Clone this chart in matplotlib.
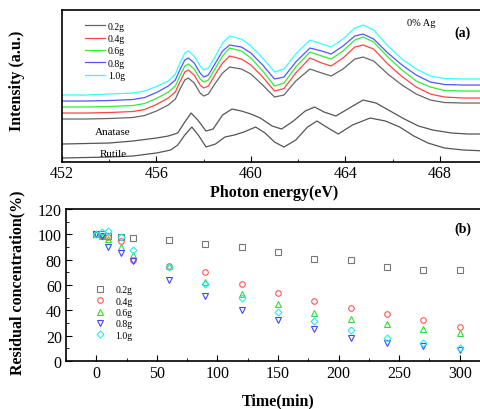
import numpy as np
import matplotlib
matplotlib.use("Agg")
import matplotlib.pyplot as plt
from matplotlib.ticker import MultipleLocator, NullLocator

plt.rcParams['font.family'] = ['Liberation Serif', 'DejaVu Serif']

# ---- panel (a): XANES spectra ----
energy = [452.0, 453.0, 454.0, 455.0, 455.5, 456.0, 456.5, 456.8, 457.0, 457.2,
          457.35, 457.6, 457.85, 458.0, 458.2, 458.5, 458.8, 459.1, 459.6, 460.0,
          460.5, 461.0, 461.4, 461.9, 462.5, 463.0, 463.4, 463.9, 464.4, 464.75,
          465.2, 465.8, 466.4, 467.0, 467.6, 468.2, 469.0, 470.0]
spec_02 = [45, 45, 45.5, 46.5, 48.5, 53, 59, 65, 75, 84, 86, 81, 71, 68, 70, 81, 91, 97, 95, 90,
           79, 67, 69, 83, 95, 91, 88, 95, 105, 107, 103, 90, 79, 70, 64, 61.5, 61, 61]
spec_04 = [51, 51, 51.5, 52.5, 54.5, 59.5, 66, 72, 82.5, 92, 94, 89, 79, 76, 78, 90, 101, 108, 105, 99,
           87, 73, 75.5, 91, 106, 101, 98, 106, 117, 119, 115, 100, 87.5, 77, 70, 67, 66, 66]
spec_06 = [57, 57, 57.5, 58.5, 60.5, 65.5, 72, 78, 88.5, 98, 100, 95, 85, 82, 84, 96, 108, 116, 113, 106,
           93, 78, 81, 97, 112, 108, 105, 113, 124, 127, 122, 107, 94, 83, 77, 73.5, 73, 73]
spec_08 = [63, 63, 63.5, 64.5, 66.5, 71.5, 78, 84, 94.5, 104, 106, 101, 91, 87, 89, 101, 113, 119, 117, 111,
           99, 85, 87, 102, 116, 113, 110, 118, 128, 130, 125, 111, 99, 89, 82, 79.5, 79, 79]
spec_10 = [69, 69, 70, 71, 73, 77.5, 83, 90, 101, 111, 113, 108, 98, 94, 96, 108, 121, 128, 125, 118,
           106, 92, 95, 110, 124, 120, 117, 125, 136, 139, 134, 118, 105, 95, 88, 85.5, 85, 85]

energy_ana = [452, 453, 454, 455, 456, 456.5, 456.9, 457.2, 457.47, 457.75, 458.1, 458.4,
              458.8, 459.2, 459.6, 460.0, 460.4, 460.9, 461.3, 461.8, 462.3, 462.7, 463.1,
              463.6, 464.1, 464.75, 465.3, 465.9, 466.5, 467.1, 467.7, 468.5, 469.2, 470]
anatase = [20, 20.5, 21, 23, 26, 28, 31, 42, 51, 44, 33, 35, 49, 55, 53, 50, 46, 38, 35, 43,
           53, 57, 52, 48, 55, 64, 61, 53, 45, 38, 34, 31, 30, 30]

energy_rut = [452, 453, 454, 455, 456, 456.6, 456.9, 457.2, 457.5, 457.8, 458.1, 458.5,
              458.9, 459.3, 459.7, 460.2, 460.6, 461.0, 461.4, 461.9, 462.4, 462.8, 463.2,
              463.7, 464.3, 465.05, 465.7, 466.3, 466.9, 467.5, 468.2, 469.0, 470]
rutile = [6, 6.5, 7, 8, 11, 14, 19, 29, 37, 28, 17, 20, 27, 29, 32, 37, 31, 22, 17, 24,
          37, 43, 37, 30, 39, 46, 43, 37, 28, 21, 16, 14, 13]

# ---- panel (b): degradation ----
time_min = [0, 5, 10, 20, 30, 60, 90, 120, 150, 180, 210, 240, 270, 300]
conc_02 = [100, 100, 99, 98, 97, 95.5, 92, 90, 86, 80.5, 80, 74.5, 72, 71.5]
conc_04 = [100, 99, 98, 94.5, 80, 75, 70, 61, 53.5, 47, 41.5, 37, 32.5, 27]
conc_06 = [100, 98.5, 96, 90, 84, 75, 62, 53, 45, 38, 33, 29.5, 25, 22]
conc_08 = [100, 99, 90, 85, 79, 64, 51.5, 40, 32, 25, 18.5, 14, 11.5, 8.5]
conc_10 = [100, 102, 103, 97.5, 88, 74, 60.5, 50, 39, 31.5, 24.5, 18.5, 14, 10]

labels = ['0.2g', '0.4g', '0.6g', '0.8g', '1.0g']
colors = ['#666666', '#ff4444', '#33ee33', '#5555ff', '#33ffff']
mcolors = ['#777777', '#ff5555', '#33dd33', '#4444ff', '#22eeee']
markers = ['s', 'o', '^', 'v', 'D']

fig = plt.figure(figsize=(4.81, 4.10), dpi=100)

ax1 = fig.add_axes([0.1289, 0.6024, 0.8836, 0.3707])
for y, c, lab in zip([spec_02, spec_04, spec_06, spec_08, spec_10], colors, labels):
    ax1.plot(energy, y, color=c, lw=0.9, label=lab)
ax1.plot(energy_ana, anatase, color='#555555', lw=0.9)
ax1.plot(energy_rut, rutile, color='#555555', lw=0.9)
ax1.set_xlim(452, 470)
ax1.set_ylim(2, 154)
ax1.xaxis.set_major_locator(MultipleLocator(4))
ax1.xaxis.set_minor_locator(MultipleLocator(2))
ax1.yaxis.set_major_locator(NullLocator())
ax1.tick_params(axis='x', which='major', direction='in', length=4, labelsize=11.5, pad=2)
ax1.tick_params(axis='x', which='minor', direction='in', length=2.5)
ax1.set_xlabel('Photon energy(eV)', fontsize=11.5, fontweight='bold')
ax1.set_ylabel('Intensity (a.u.)', fontsize=11.5, fontweight='bold')
ax1.xaxis.set_label_coords(0.5, -0.145)
ax1.yaxis.set_label_coords(-0.088, 0.54)
ax1.text(453.4, 33, 'Anatase', fontsize=8, va='center')
ax1.text(453.6, 11, 'Rutile', fontsize=8, va='center')
ax1.text(466.6, 142, '0% Ag', fontsize=7.5, va='center')
ax1.text(468.6, 132, '(a)', fontsize=10, fontweight='bold', va='center')
ax1.legend(loc='upper left', bbox_to_anchor=(0.035, 0.975), frameon=False, fontsize=7,
           handlelength=2.1, handletextpad=0.3, labelspacing=0.35, borderpad=0.3)
for s in ax1.spines.values():
    s.set_linewidth(1.2)

ax2 = fig.add_axes([0.1372, 0.1171, 0.8815, 0.3707])
for y, c, m, lab in zip([conc_02, conc_04, conc_06, conc_08, conc_10], mcolors, markers, labels):
    ax2.plot(time_min, y, ls='none', marker=m, markersize=4 if m != 'D' else 3.5,
             mfc='none', mec=c, mew=0.8, label=lab)
ax2.set_xlim(-25, 325)
ax2.set_ylim(0, 120)
ax2.xaxis.set_major_locator(MultipleLocator(50))
ax2.xaxis.set_minor_locator(MultipleLocator(25))
ax2.yaxis.set_major_locator(MultipleLocator(20))
ax2.yaxis.set_minor_locator(MultipleLocator(10))
ax2.tick_params(which='major', direction='in', length=4, labelsize=11.5, pad=3)
ax2.tick_params(which='minor', direction='in', length=2.5)
ax2.set_xlabel('Time(min)', fontsize=11.5, fontweight='bold')
ax2.set_ylabel('Residual concentration(%)', fontsize=11.5, fontweight='bold')
ax2.xaxis.set_label_coords(0.5, -0.205)
ax2.yaxis.set_label_coords(-0.096, 0.52)
ax2.text(296, 105, '(b)', fontsize=10, fontweight='bold', va='center')
ax2.legend(loc='upper left', bbox_to_anchor=(0.045, 0.55), frameon=False, fontsize=7,
           handlelength=1.5, handletextpad=0.8, labelspacing=0.25, borderpad=0.3)
for s in ax2.spines.values():
    s.set_linewidth(1.2)

fig.savefig('out.png', dpi=100)
